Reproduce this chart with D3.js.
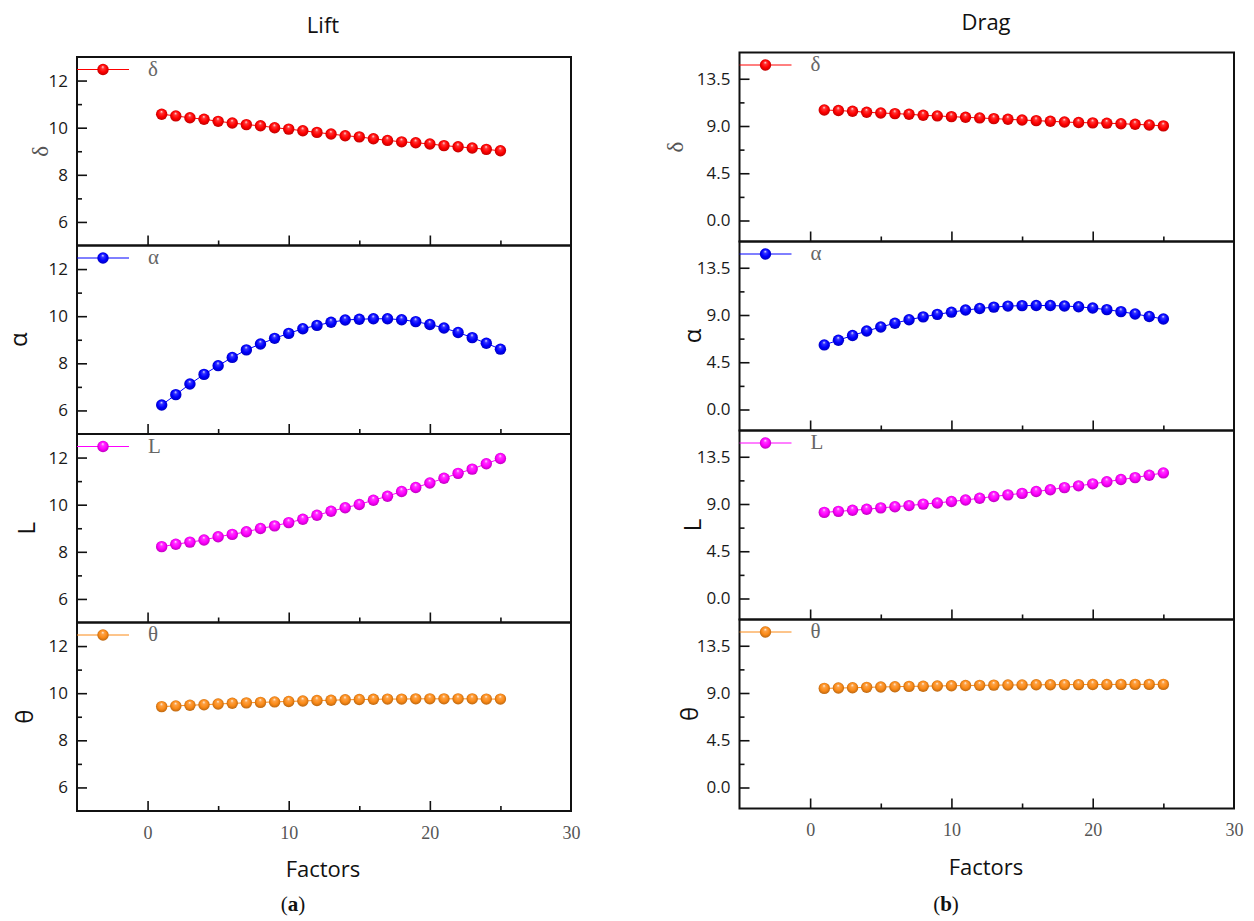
<!DOCTYPE html>
<html>
<head>
<meta charset="utf-8">
<script src="https://cdn.jsdelivr.net/npm/d3@7"></script>
<style>
  body { margin: 0; background: #fff; }
</style>
</head>
<body>
<div id="chart"></div>
<script>
// factors on the x axis
var factors = [1, 2, 3, 4, 5, 6, 7, 8, 9, 10, 11, 12, 13, 14, 15, 16, 17, 18, 19, 20, 21, 22, 23, 24, 25];

// Lift (a)
var liftDelta = [10.57, 10.50, 10.42, 10.36, 10.27, 10.20, 10.13, 10.08, 10.00, 9.94, 9.87, 9.80, 9.73,
                 9.66, 9.61, 9.53, 9.46, 9.40, 9.36, 9.31, 9.24, 9.19, 9.14, 9.08, 9.02];
var liftAlpha = [6.23, 6.67, 7.12, 7.53, 7.90, 8.25, 8.57, 8.82, 9.06, 9.27, 9.47, 9.61, 9.74,
                 9.84, 9.87, 9.89, 9.89, 9.85, 9.77, 9.65, 9.50, 9.31, 9.09, 8.85, 8.60];
var liftL = [8.22, 8.32, 8.41, 8.50, 8.64, 8.74, 8.85, 8.99, 9.10, 9.24, 9.38, 9.55, 9.72,
             9.87, 10.01, 10.19, 10.36, 10.56, 10.73, 10.92, 11.12, 11.33, 11.51, 11.74, 11.96];
var liftTheta = [9.43, 9.46, 9.49, 9.51, 9.54, 9.57, 9.59, 9.61, 9.63, 9.65, 9.67, 9.69, 9.70,
                 9.72, 9.73, 9.74, 9.75, 9.75, 9.76, 9.76, 9.76, 9.76, 9.76, 9.75, 9.75];

// Drag (b)
var dragDelta = [10.53, 10.47, 10.40, 10.31, 10.24, 10.18, 10.12, 10.02, 9.96, 9.89, 9.83, 9.77, 9.70,
                 9.64, 9.57, 9.51, 9.45, 9.38, 9.33, 9.30, 9.27, 9.22, 9.16, 9.10, 9.01];
var dragAlpha = [6.15, 6.60, 7.05, 7.47, 7.86, 8.22, 8.55, 8.82, 9.06, 9.27, 9.47, 9.62, 9.75,
                 9.85, 9.89, 9.91, 9.90, 9.86, 9.78, 9.66, 9.51, 9.32, 9.10, 8.86, 8.62];
var dragL = [8.20, 8.30, 8.40, 8.50, 8.63, 8.74, 8.85, 8.99, 9.10, 9.24, 9.38, 9.55, 9.72,
             9.87, 10.01, 10.19, 10.36, 10.56, 10.73, 10.92, 11.12, 11.33, 11.51, 11.74, 11.96];
var dragTheta = [9.44, 9.47, 9.50, 9.54, 9.57, 9.60, 9.63, 9.65, 9.67, 9.69, 9.71, 9.73, 9.75,
                 9.76, 9.77, 9.78, 9.79, 9.80, 9.80, 9.81, 9.81, 9.82, 9.82, 9.82, 9.82];

var seriesNames = ["δ", "α", "L", "θ"];
var seriesColors = ["#ff0000", "#0000ff", "#ff00ff", "#fb8a17"];

var xTicks = [0, 10, 20, 30];
var xMajor = [0, 10, 20];
var xMinor = [5, 15, 25];
var liftTicks = [6, 8, 10, 12];
var liftMinor = [7, 9, 11];
var dragTicks = [0, 4.5, 9, 13.5];
var dragMinor = [2.25, 6.75, 11.25];

var svg = d3.select("#chart").append("svg")
  .attr("width", 1254)
  .attr("height", 921);

// shaded ball markers
var defs = svg.append("defs");
seriesColors.forEach(function(c, i) {
  var g = defs.append("radialGradient")
    .attr("id", "ball" + i)
    .attr("cx", "50%").attr("cy", "50%").attr("r", "55%")
    .attr("fx", "48%").attr("fy", "26%");
  g.append("stop").attr("offset", "0%").attr("stop-color", d3.interpolateRgb(c, "#fff")(0.85));
  g.append("stop").attr("offset", "25%").attr("stop-color", d3.interpolateRgb(c, "#fff")(0.2));
  g.append("stop").attr("offset", "60%").attr("stop-color", c);
  g.append("stop").attr("offset", "100%").attr("stop-color", d3.color(c).darker(1));
});

function drawChart(cfg) {
  var x = d3.scaleLinear().domain([-5, 30]).range([cfg.x0, cfg.x1]);

  // title on top
  svg.append("text")
    .attr("x", cfg.titleX)
    .attr("y", cfg.titleY)
    .attr("text-anchor", "middle")
    .style("font-family", "'Open Sans', Lato, sans-serif")
    .style("font-size", "22px")
    .style("fill", "#111")
    .text(cfg.title);

  cfg.series.forEach(function(values, i) {
    var top = cfg.top + i * cfg.h;
    var bottom = top + cfg.h;
    var y = d3.scaleLinear().domain(cfg.yDomain).range([bottom, top]);
    var g = svg.append("g");

    var pts = factors.map(function(f, k) { return [f, values[k]]; });

    // connecting line
    g.append("path")
      .datum(pts)
      .attr("fill", "none")
      .attr("stroke", seriesColors[i])
      .attr("stroke-width", 1)
      .attr("d", d3.line().x(function(d) { return x(d[0]); }).y(function(d) { return y(d[1]); }));

    // balls
    g.selectAll("circle.pt")
      .data(pts)
      .enter().append("circle")
      .attr("class", "pt")
      .attr("cx", function(d) { return x(d[0]); })
      .attr("cy", function(d) { return y(d[1]); })
      .attr("r", 5.7)
      .attr("fill", "url(#ball" + i + ")");

    // y axis, ticks point inwards
    var yAxis = g.append("g")
      .attr("transform", "translate(" + cfg.x0 + ",0)")
      .call(d3.axisLeft(y).tickValues(cfg.yTicks).tickSize(-10).tickPadding(9)
        .tickFormat(cfg.yFormat));
    yAxis.select(".domain").remove();
    yAxis.selectAll("line").attr("stroke", "#111").attr("stroke-width", 1.6);
    yAxis.selectAll("text")
      .style("font-family", "'Open Sans', Lato, sans-serif")
      .style("font-size", "17px")
      .style("fill", "#1a1a1a");

    var yMin = g.append("g")
      .attr("transform", "translate(" + cfg.x0 + ",0)")
      .call(d3.axisLeft(y).tickValues(cfg.yMinor).tickSize(-5).tickFormat(""));
    yMin.select(".domain").remove();
    yMin.selectAll("line").attr("stroke", "#111").attr("stroke-width", 1.6);

    // x ticks at the bottom of each panel
    var xAxis = g.append("g")
      .attr("transform", "translate(0," + bottom + ")")
      .call(d3.axisBottom(x).tickValues(xMajor).tickSize(-10).tickFormat(""));
    xAxis.select(".domain").remove();
    xAxis.selectAll("line").attr("stroke", "#111").attr("stroke-width", 1.6);

    var xMin = g.append("g")
      .attr("transform", "translate(0," + bottom + ")")
      .call(d3.axisBottom(x).tickValues(xMinor).tickSize(-5).tickFormat(""));
    xMin.select(".domain").remove();
    xMin.selectAll("line").attr("stroke", "#111").attr("stroke-width", 1.6);

    // frame
    g.append("rect")
      .attr("x", cfg.x0)
      .attr("y", top)
      .attr("width", cfg.x1 - cfg.x0)
      .attr("height", cfg.h)
      .attr("fill", "none")
      .attr("stroke", "#111")
      .attr("stroke-width", 2);

    // legend
    var ly = top + 12.5;
    g.append("line")
      .attr("x1", cfg.x0).attr("x2", cfg.x0 + 52)
      .attr("y1", ly).attr("y2", ly)
      .attr("stroke", seriesColors[i])
      .attr("stroke-width", 1);
    g.append("circle")
      .attr("cx", cfg.x0 + 26)
      .attr("cy", ly)
      .attr("r", 5.7)
      .attr("fill", "url(#ball" + i + ")");
    g.append("text")
      .attr("x", cfg.x0 + 71)
      .attr("y", ly + 6)
      .style("font-family", "'Liberation Serif', 'DejaVu Serif', serif")
      .style("font-size", "21px")
      .style("fill", "#666")
      .text(seriesNames[i]);

    // y title
    var serif = i === 0;
    g.append("text")
      .attr("transform", "translate(" + cfg.yTitleX[i] + "," + (top + cfg.h / 2) + ") rotate(-90)")
      .attr("text-anchor", "middle")
      .attr("dy", "0.35em")
      .style("font-family", serif ? "'Liberation Serif', 'DejaVu Serif', serif" : "'Open Sans', 'Noto Sans', sans-serif")
      .style("font-size", serif ? "23px" : "24px")
      .style("fill", serif ? "#555" : "#111")
      .text(seriesNames[i]);

    // labels only below last panel
    if (i === cfg.series.length - 1) {
      var xLab = g.append("g")
        .attr("transform", "translate(0," + bottom + ")")
        .call(d3.axisBottom(x).tickValues(xTicks).tickSize(0).tickPadding(15));
      xLab.select(".domain").remove();
      xLab.selectAll("text")
        .style("font-family", "'Liberation Serif', 'DejaVu Serif', serif")
        .style("font-size", "18px")
        .style("fill", "#555");

      svg.append("text")
        .attr("x", cfg.factorsX)
        .attr("y", cfg.factorsY)
        .attr("text-anchor", "middle")
        .style("font-family", "'Open Sans', Lato, sans-serif")
        .style("font-size", "22px")
        .style("fill", "#111")
        .text("Factors");

      var cap = svg.append("text")
        .attr("x", cfg.capX)
        .attr("y", 911)
        .attr("text-anchor", "middle")
        .style("font-family", "'Liberation Serif', 'DejaVu Serif', serif")
        .style("font-size", "21px")
        .style("fill", "#111");
      cap.append("tspan").text("(");
      cap.append("tspan").style("font-weight", "bold").text(cfg.cap);
      cap.append("tspan").text(")");
    }
  });
}

drawChart({
  title: "Lift", titleX: 323, titleY: 33,
  x0: 77, x1: 571, top: 57, h: 188.5,
  yDomain: [5, 13], yTicks: liftTicks, yMinor: liftMinor,
  yFormat: d3.format("d"),
  yTitleX: [40, 19, 27, 25],
  series: [liftDelta, liftAlpha, liftL, liftTheta],
  factorsX: 323, factorsY: 877, capX: 293, cap: "a"
});

drawChart({
  title: "Drag", titleX: 986, titleY: 30,
  x0: 739.5, x1: 1234, top: 52.5, h: 189,
  yDomain: [-2, 16], yTicks: dragTicks, yMinor: dragMinor,
  yFormat: d3.format(".1f"),
  yTitleX: [675, 693, 693, 690],
  series: [dragDelta, dragAlpha, dragL, dragTheta],
  factorsX: 986, factorsY: 875, capX: 946, cap: "b"
});
</script>
</body>
</html>
